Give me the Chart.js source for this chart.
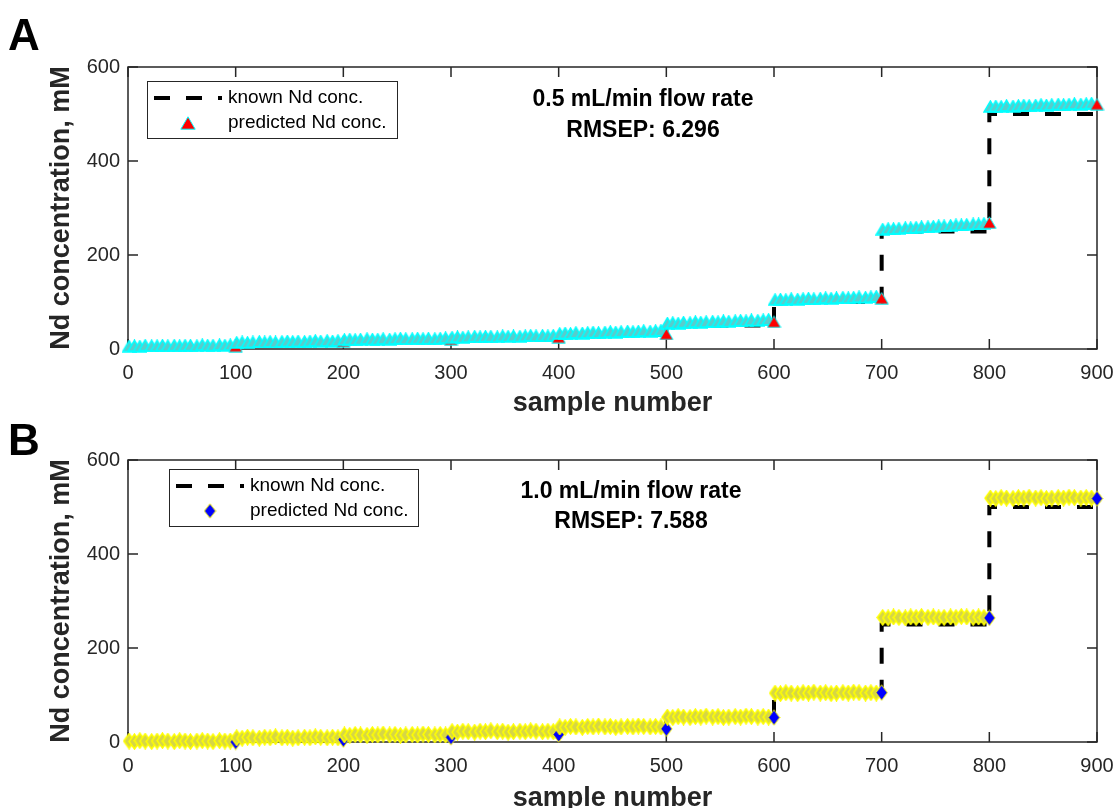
<!DOCTYPE html>
<html>
<head>
<meta charset="utf-8">
<script src="https://cdn.jsdelivr.net/npm/chart.js@4.4.1/dist/chart.umd.min.js"></script>
<style>
    html, body { margin: 0; padding: 0; background: #fff; }
    body { width: 1113px; height: 808px; position: relative; overflow: hidden; }
    .panel { position: absolute; left: 0; width: 1113px; }
    #wrapA { top: 0; height: 415px; }
    #wrapB { top: 415px; height: 393px; }
</style>
</head>
<body>
<div class="panel" id="wrapA"><canvas id="chartA" width="1113" height="415"></canvas></div>
<div class="panel" id="wrapB"><canvas id="chartB" width="1113" height="393"></canvas></div>
<script>
// --- data ---
const sampleTicks = [0, 100, 200, 300, 400, 500, 600, 700, 800, 900];
const concTicks = [0, 200, 400, 600];

// each concentration level covers 100 samples
const stepStarts = [0, 100, 200, 300, 400, 500, 600, 700, 800];
const knownConc = [0, 10, 15, 20, 30, 50, 100, 250, 500];

// sample numbers (within a step) at which predictions were read
const sampleOffsets = [1, 6, 11, 16, 22, 27, 32, 37, 43, 48, 53, 58, 64, 69, 74, 79, 85, 90, 95, 100];

// panel A, 0.5 mL/min
const predA = [
    [6, 7, 6, 8, 7, 7, 8, 7, 8, 7, 8, 8, 7, 9, 8, 8, 9, 8, 9, 6],
    [14, 15, 14, 15, 16, 15, 16, 15, 16, 17, 16, 17, 16, 17, 18, 17, 18, 17, 18, 17],
    [20, 21, 20, 21, 22, 21, 21, 22, 21, 22, 23, 22, 22, 23, 22, 23, 22, 23, 24, 21],
    [25, 26, 25, 26, 27, 26, 27, 27, 26, 28, 27, 28, 27, 28, 29, 28, 29, 28, 29, 25],
    [33, 34, 33, 35, 34, 35, 36, 35, 36, 37, 36, 37, 38, 37, 38, 39, 38, 39, 40, 32],
    [55, 56, 55, 57, 56, 58, 57, 58, 59, 58, 60, 59, 60, 61, 60, 62, 61, 62, 63, 58],
    [105, 106, 105, 107, 106, 107, 108, 107, 108, 109, 108, 109, 110, 109, 110, 111, 110, 111, 112, 108],
    [255, 256, 256, 257, 258, 258, 259, 260, 260, 261, 262, 262, 263, 264, 264, 265, 266, 266, 267, 269],
    [516, 517, 516, 518, 517, 518, 519, 518, 519, 520, 519, 520, 521, 520, 521, 522, 521, 522, 523, 521]
];

// panel B, 1.0 mL/min
const predB = [
    [2, 1, 3, 2, 1, 2, 3, 2, 1, 3, 2, 1, 2, 3, 2, 1, 3, 2, 2, 0],
    [9, 8, 10, 9, 8, 10, 9, 11, 9, 10, 8, 9, 10, 9, 11, 10, 9, 10, 9, 5],
    [15, 14, 16, 15, 14, 16, 15, 17, 15, 16, 14, 15, 16, 15, 17, 16, 15, 16, 15, 10],
    [22, 21, 23, 22, 21, 23, 22, 24, 22, 23, 21, 22, 23, 22, 24, 23, 22, 23, 22, 16],
    [32, 31, 33, 32, 31, 33, 32, 34, 32, 33, 31, 32, 33, 32, 34, 33, 32, 33, 32, 28],
    [53, 52, 54, 53, 52, 54, 53, 55, 53, 54, 52, 53, 54, 53, 55, 54, 53, 54, 53, 52],
    [104, 103, 105, 104, 103, 105, 104, 106, 104, 105, 103, 104, 105, 104, 106, 105, 104, 105, 104, 105],
    [265, 264, 266, 265, 264, 266, 265, 267, 265, 266, 264, 265, 266, 265, 267, 266, 265, 266, 265, 264],
    [519, 518, 520, 519, 518, 520, 519, 521, 519, 520, 518, 519, 520, 519, 521, 520, 519, 520, 519, 518]
];

const FONT = '"Liberation Sans", Arial, Helvetica, sans-serif';
const INK = '#262626';

function knownPoints() {
    const pts = stepStarts.map((s, i) => ({ x: s, y: knownConc[i] }));
    pts.push({ x: 900, y: knownConc[knownConc.length - 1] });
    return pts;
}

function predictedPoints(steps) {
    const pts = [];
    steps.forEach((vals, i) => {
        vals.forEach((v, k) => pts.push({ x: stepStarts[i] + sampleOffsets[k], y: v }));
    });
    return pts;
}

// small canvases used as marker shapes (MATLAB ^ and d markers)
function markerImage(shape, w, h, fill, edge, lw) {
    const c = document.createElement('canvas');
    c.width = w; c.height = h;
    const g = c.getContext('2d');
    const p = lw / 2 + 0.3;
    g.beginPath();
    if (shape === 'triangle') {
        g.moveTo(w / 2, p);
        g.lineTo(w - p, h - p);
        g.lineTo(p, h - p);
    } else {
        g.moveTo(w / 2, p);
        g.lineTo(w - p, h / 2);
        g.lineTo(w / 2, h - p);
        g.lineTo(p, h / 2);
    }
    g.closePath();
    g.fillStyle = fill;
    g.fill();
    g.lineWidth = lw;
    g.strokeStyle = edge;
    g.stroke();
    return c;
}

function makeDecor(cfg) {
    return {
        id: 'decor' + cfg.letter,
        beforeDatasetsDraw(chart) {
            const { ctx, chartArea: a, scales: { x, y } } = chart;
            ctx.save();
            ctx.strokeStyle = INK;
            ctx.lineWidth = 1.5;
            ctx.strokeRect(a.left, a.top, a.right - a.left, a.bottom - a.top);
            ctx.beginPath();
            sampleTicks.forEach(v => {
                const px = x.getPixelForValue(v);
                ctx.moveTo(px, a.bottom); ctx.lineTo(px, a.bottom - 10);
                ctx.moveTo(px, a.top); ctx.lineTo(px, a.top + 10);
            });
            concTicks.forEach(v => {
                const py = y.getPixelForValue(v);
                ctx.moveTo(a.left, py); ctx.lineTo(a.left + 10, py);
                ctx.moveTo(a.right, py); ctx.lineTo(a.right - 10, py);
            });
            ctx.stroke();
            ctx.restore();
        },
        afterDraw(chart) {
            const { ctx, chartArea: a } = chart;
            ctx.save();
            ctx.fillStyle = '#000';

            // panel letter
            ctx.font = 'bold 44px ' + FONT;
            ctx.textAlign = 'left';
            ctx.textBaseline = 'alphabetic';
            ctx.fillText(cfg.letter, 8, cfg.letterY);

            // axis titles
            ctx.fillStyle = INK;
            ctx.font = 'bold 27px ' + FONT;
            ctx.textAlign = 'center';
            ctx.fillText('sample number', (a.left + a.right) / 2, cfg.xTitleY);
            ctx.save();
            ctx.translate(69, (a.top + a.bottom) / 2);
            ctx.rotate(-Math.PI / 2);
            ctx.fillText('Nd concentration, mM', 0, 0);
            ctx.restore();

            // flow rate / RMSEP note
            ctx.fillStyle = '#000';
            ctx.font = 'bold 23px ' + FONT;
            ctx.fillText(cfg.note[0], cfg.noteX, cfg.noteY[0]);
            ctx.fillText(cfg.note[1], cfg.noteX, cfg.noteY[1]);

            // legend
            const L = cfg.legend;
            ctx.fillStyle = '#fff';
            ctx.fillRect(L.x, L.y, L.w, L.h);
            ctx.strokeStyle = INK;
            ctx.lineWidth = 1;
            ctx.strokeRect(L.x + 0.5, L.y + 0.5, L.w, L.h);
            ctx.strokeStyle = '#000';
            ctx.lineWidth = 4;
            ctx.setLineDash([16, 16]);
            ctx.beginPath();
            ctx.moveTo(L.x + 7, L.row1);
            ctx.lineTo(L.x + 75, L.row1);
            ctx.stroke();
            ctx.setLineDash([]);
            const m = cfg.legendMarker;
            ctx.drawImage(m, L.x + 41 - m.width / 2, L.row2 - m.height / 2);
            ctx.fillStyle = '#000';
            ctx.font = '19px ' + FONT;
            ctx.textAlign = 'left';
            ctx.textBaseline = 'middle';
            ctx.fillText('known Nd conc.', L.x + 81, L.row1);
            ctx.fillText('predicted Nd conc.', L.x + 81, L.row2);
            ctx.restore();
        }
    };
}

function makePanel(cfg) {
    const perStep = sampleOffsets.length;
    return new Chart(document.getElementById(cfg.canvasId), {
        type: 'line',
        data: {
            datasets: [
                {
                    label: 'predicted Nd conc.',
                    data: predictedPoints(cfg.pred),
                    showLine: false,
                    pointRadius: 7,
                    pointStyle: ctx => (ctx.dataIndex % perStep === perStep - 1 ? cfg.fullMarker : cfg.bandMarker),
                    clip: false,
                    order: 0
                },
                {
                    label: 'known Nd conc.',
                    data: knownPoints(),
                    borderColor: '#000',
                    borderWidth: 4,
                    borderDash: [16, 16],
                    stepped: true,
                    pointRadius: 0,
                    fill: false,
                    clip: false,
                    order: 1
                }
            ]
        },
        options: {
            responsive: false,
            animation: false,
            devicePixelRatio: 1,
            events: [],
            layout: {
                autoPadding: false,
                padding: { top: cfg.padTop, right: 16, left: 0, bottom: 0 }
            },
            plugins: { legend: { display: false }, tooltip: { enabled: false } },
            scales: {
                x: {
                    type: 'linear',
                    min: 0,
                    max: 900,
                    afterBuildTicks: s => { s.ticks = sampleTicks.map(v => ({ value: v })); },
                    afterFit: s => {
                        s.height = cfg.xAxisHeight;
                        s.paddingLeft = 0;
                        s.paddingRight = 0;
                    },
                    ticks: {
                        autoSkip: false,
                        maxRotation: 0,
                        padding: 12,
                        color: INK,
                        font: { family: FONT, size: 20 }
                    },
                    grid: { display: false, drawTicks: false },
                    border: { display: false }
                },
                y: {
                    min: 0,
                    max: 600,
                    afterBuildTicks: s => { s.ticks = concTicks.map(v => ({ value: v })); },
                    afterFit: s => {
                        s.width = 128;
                        s.paddingTop = 0;
                        s.paddingBottom = 0;
                    },
                    ticks: {
                        padding: 8,
                        color: INK,
                        font: { family: FONT, size: 20 }
                    },
                    grid: { display: false, drawTicks: false },
                    border: { display: false }
                }
            }
        },
        plugins: [makeDecor(cfg)]
    });
}

makePanel({
    canvasId: 'chartA',
    letter: 'A',
    letterY: 50,
    pred: predA,
    padTop: 67,
    xAxisHeight: 66,
    xTitleY: 411,
    note: ['0.5 mL/min flow rate', 'RMSEP: 6.296'],
    noteX: 643,
    noteY: [106, 137],
    legend: { x: 147, y: 81, w: 250, h: 57, row1: 98, row2: 123 },
    fullMarker: markerImage('triangle', 15, 13, '#ff0000', '#00ffff', 1),
    bandMarker: markerImage('triangle', 15, 13, 'rgb(90,204,204)', '#00ffff', 1.6),
    legendMarker: markerImage('triangle', 16, 14, '#ff0000', '#00ffff', 1)
});

makePanel({
    canvasId: 'chartB',
    letter: 'B',
    letterY: 40,
    pred: predB,
    padTop: 45,
    xAxisHeight: 66,
    xTitleY: 391,
    note: ['1.0 mL/min flow rate', 'RMSEP: 7.588'],
    noteX: 631,
    noteY: [83, 113],
    legend: { x: 169, y: 54, w: 249, h: 57, row1: 71, row2: 96 },
    fullMarker: markerImage('diamond', 13, 17, '#0000ff', '#ffff00', 1),
    bandMarker: markerImage('diamond', 13, 17, 'rgb(214,214,70)', '#ffff00', 1.6),
    legendMarker: markerImage('diamond', 13, 16, '#0000ff', '#ffff00', 1)
});
</script>
</body>
</html>
